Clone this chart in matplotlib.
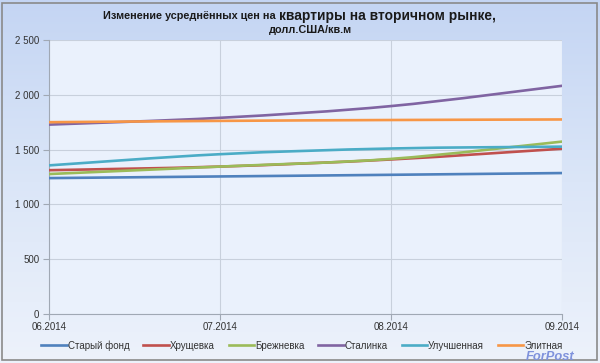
import numpy as np
import matplotlib
matplotlib.use("Agg")
import matplotlib.pyplot as plt
from matplotlib.path import Path
from matplotlib.patches import PathPatch, Rectangle
from matplotlib.lines import Line2D
from matplotlib.ticker import FuncFormatter, MultipleLocator
from matplotlib.colors import LinearSegmentedColormap

plt.rcParams['font.family'] = ['Liberation Sans', 'DejaVu Sans']

months = ["06.2014", "07.2014", "08.2014", "09.2014"]
series_names = ["Старый фонд", "Хрущевка", "Брежневка", "Сталинка", "Улучшенная", "Элитная"]
stary_fond = [1240, 1255, 1270, 1286]
khrushchevka = [1312, 1345, 1410, 1508]
brezhnevka = [1277, 1345, 1415, 1573]
stalinka = [1728, 1790, 1897, 2082]
uluchshennaya = [1356, 1458, 1510, 1527]
elitnaya = [1750, 1762, 1770, 1775]
values = [stary_fond, khrushchevka, brezhnevka, stalinka, uluchshennaya, elitnaya]
colors = ["#4F81BD", "#C0504D", "#9BBB59", "#8064A2", "#4BACC6", "#F79646"]

W, H = 600, 363
fig = plt.figure(figsize=(W / 100, H / 100), dpi=100)

# background gradient
bg = fig.add_axes([0, 0, 1, 1], zorder=-10)
grad = np.linspace(0, 1, 256).reshape(-1, 1)
cmap = LinearSegmentedColormap.from_list("bg", ["#c4d5f3", "#dbe6f8", "#edf2fb"])
bg.imshow(grad, aspect="auto", cmap=cmap, extent=[0, 1, 0, 1], origin="upper")
bg.set_xlim(0, 1)
bg.set_ylim(0, 1)
bg.axis("off")
bg.add_patch(Rectangle((2 / W, 3 / H), 595 / W, 357 / H, fill=False,
                       edgecolor="#8a8a8a", lw=1.2, transform=bg.transAxes))

ax = fig.add_axes([49 / W, 1 - 314 / H, 513 / W, 274 / H])
ax.set_facecolor("#eaf1fc")
x = np.arange(len(months))


def bezier_path(xs, ys):
    pts = np.column_stack([xs, ys]).astype(float)
    n = len(pts)
    verts = [pts[0]]
    codes = [Path.MOVETO]
    for i in range(n - 1):
        p0 = pts[i - 1] if i > 0 else pts[i]
        p1 = pts[i]
        p2 = pts[i + 1]
        p3 = pts[i + 2] if i + 2 < n else pts[i + 1]
        c1 = p1 + (p2 - p0) / 6.0
        c2 = p2 - (p3 - p1) / 6.0
        verts += [c1, c2, p2]
        codes += [Path.CURVE4] * 3
    return Path(verts, codes)


handles = []
for name, vals, c in zip(series_names, values, colors):
    patch = PathPatch(bezier_path(x, vals), facecolor="none", edgecolor=c,
                      lw=1.9, zorder=3, capstyle="round", joinstyle="round")
    ax.add_patch(patch)
    handles.append(Line2D([0], [0], color=c, lw=1.9))

ax.set_xlim(0, 3)
ax.set_ylim(0, 2500)
ax.yaxis.set_major_locator(MultipleLocator(500))
ax.yaxis.set_major_formatter(FuncFormatter(lambda v, p: f"{int(v):,}".replace(",", " ")))
ax.set_xticks(x)
ax.set_xticklabels(months)
ax.grid(True, color="#c8d0dc", lw=0.8)
ax.set_axisbelow(True)
for s in ["top", "right"]:
    ax.spines[s].set_visible(False)
for s in ["left", "bottom"]:
    ax.spines[s].set_color("#a0a8b4")
    ax.spines[s].set_linewidth(0.8)
ax.tick_params(axis="both", colors="#a0a8b4", labelcolor="#333333", labelsize=7,
               length=4, width=0.8)
ax.tick_params(axis="y", pad=3)
ax.tick_params(axis="x", pad=2)

fig.text(279 / W, 1 - 16 / H, "Изменение усреднённых цен на ", ha="right",
         va="center", fontsize=7.8, fontweight="bold", color="#1a1a1a")
fig.text(279 / W, 1 - 16 / H, "квартиры на вторичном рынке,", ha="left",
         va="center", fontsize=9.9, fontweight="bold", color="#1a1a1a")
fig.text(310 / W, 1 - 30 / H, "долл.США/кв.м", ha="center", va="center",
         fontsize=7.8, fontweight="bold", color="#1a1a1a")

fig.legend(handles, series_names, loc="center", bbox_to_anchor=(302 / W, 1 - 345.5 / H),
           ncol=6, frameon=False, fontsize=7, handlelength=2.6, handletextpad=0.1,
           columnspacing=1.45, labelcolor="#333333", borderpad=0.1)

fig.text(550 / W, 1 - 362.5 / H, "ForPost", ha="center", va="bottom", fontsize=9.3,
         fontweight="bold", fontstyle="italic", color="#7f92dc")

fig.savefig("out.png", dpi=100)
